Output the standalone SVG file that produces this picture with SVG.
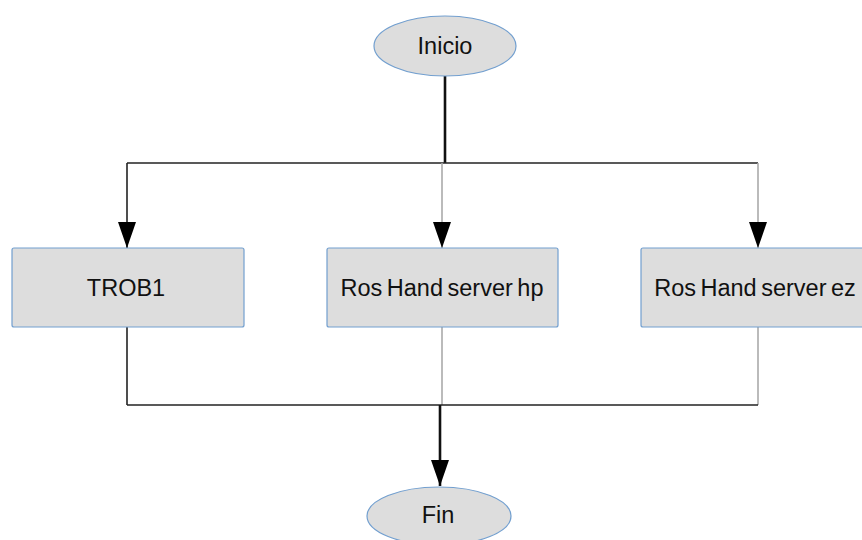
<svg xmlns="http://www.w3.org/2000/svg" width="862" height="540" viewBox="0 0 862 540">
  <style>
    .shape { fill: #dddddd; stroke: #729fcf; stroke-width: 1.2; }
    .label { font-family: "Liberation Sans", Arial, sans-serif; font-size: 23.5px; word-spacing: -2px; fill: #111111; text-anchor: middle; dominant-baseline: central; }
    .dark { stroke: #222222; stroke-width: 1.6; fill: none; }
    .grey { stroke: #aaaaaa; stroke-width: 1.6; fill: none; }
    .thick { stroke: #111111; stroke-width: 2.6; fill: none; }
  </style>
  <defs>
    <!-- filled triangle, pointing along the path direction -->
    <marker id="arrow" markerUnits="userSpaceOnUse" markerWidth="26" markerHeight="18" refX="26" refY="9" orient="auto" viewBox="0 0 26 18">
      <path d="M0,0 L26,9 L0,18 Z" fill="#000000"/>
    </marker>
  </defs>
  <rect width="862" height="540" fill="#ffffff"/>

  <g id="connectors">
    <line class="thick" x1="445" y1="76" x2="445" y2="163"/>
    <line class="dark" x1="127" y1="163" x2="758" y2="163"/>
    <path class="dark" d="M127,163 V248" marker-end="url(#arrow)"/>
    <path class="grey" d="M442,163 V248" marker-end="url(#arrow)"/>
    <path class="grey" d="M758,163 V248" marker-end="url(#arrow)"/>
    <line class="dark" x1="127" y1="327" x2="127" y2="405"/>
    <line class="grey" x1="442" y1="327" x2="442" y2="405"/>
    <line class="grey" x1="758" y1="327" x2="758" y2="405"/>
    <line class="dark" x1="127" y1="405" x2="758" y2="405"/>
    <path class="thick" d="M440,405 V486" marker-end="url(#arrow)"/>
  </g>

  <g id="inicio">
    <ellipse class="shape" cx="445" cy="46" rx="71" ry="30"/>
    <text class="label" x="445" y="46">Inicio</text>
  </g>
  <g id="trob1">
    <rect class="shape" x="12" y="248" width="232" height="79" rx="2"/>
    <text class="label" x="126" y="288">TROB1</text>
  </g>
  <g id="hand-hp">
    <rect class="shape" x="327" y="248" width="231" height="79" rx="2"/>
    <text class="label" x="442" y="288">Ros Hand server hp</text>
  </g>
  <g id="hand-ez">
    <rect class="shape" x="641" y="248" width="240" height="79" rx="2"/>
    <text class="label" x="755" y="288">Ros Hand server ez</text>
  </g>
  <g id="fin">
    <ellipse class="shape" cx="439" cy="516" rx="72" ry="29"/>
    <text class="label" x="438" y="515">Fin</text>
  </g>
</svg>
